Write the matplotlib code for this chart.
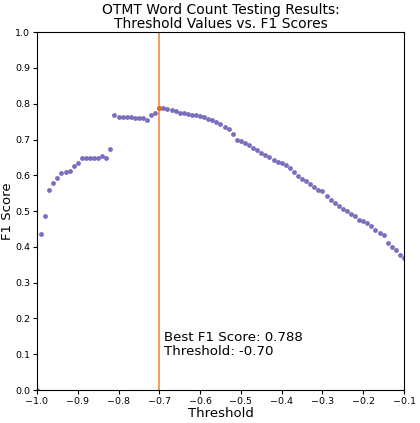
import matplotlib
matplotlib.use("Agg")
import matplotlib.pyplot as plt
import numpy as np

# thresholds from -1.00 to -0.10 in steps of 0.01
thresholds = np.round(np.arange(-1.00, -0.095, 0.01), 2)

f1_scores = [
    0.000, 0.435, 0.485, 0.559, 0.578, 0.592, 0.606, 0.608, 0.611, 0.626,  # -1.00 .. -0.91
    0.634, 0.647, 0.647, 0.647, 0.647, 0.647, 0.653, 0.647, 0.673, 0.769,  # -0.90 .. -0.81
    0.763, 0.763, 0.763, 0.762, 0.761, 0.760, 0.759, 0.755, 0.768, 0.774,  # -0.80 .. -0.71
    0.788, 0.787, 0.785, 0.783, 0.781, 0.774, 0.774, 0.772, 0.769, 0.768,  # -0.70 .. -0.61
    0.766, 0.762, 0.756, 0.754, 0.749, 0.744, 0.735, 0.729, 0.715, 0.700,  # -0.60 .. -0.51
    0.695, 0.690, 0.684, 0.676, 0.672, 0.662, 0.658, 0.650, 0.644, 0.637,  # -0.50 .. -0.41
    0.634, 0.628, 0.620, 0.609, 0.597, 0.590, 0.583, 0.577, 0.568, 0.560,  # -0.40 .. -0.31
    0.556, 0.543, 0.532, 0.523, 0.515, 0.507, 0.499, 0.492, 0.486, 0.476,  # -0.30 .. -0.21
    0.473, 0.466, 0.458, 0.446, 0.439, 0.432, 0.411, 0.399, 0.390, 0.378,  # -0.20 .. -0.11
    0.369,                                                                 # -0.10
]

best_idx = int(np.argmax(f1_scores))
best_thr = thresholds[best_idx]
best_f1 = f1_scores[best_idx]

fig = plt.figure(figsize=(4.2, 4.23), dpi=100)
ax = fig.add_axes([0.088, 0.078, 0.874, 0.846])

ax.scatter(thresholds, f1_scores, s=12, color="#6a5fb8", alpha=0.9, linewidths=0)
ax.axvline(best_thr, color="#ee8a3c", lw=1.3, alpha=0.9)
ax.scatter([best_thr], [best_f1], s=12, color="#e06a10", linewidths=0, zorder=3)

ax.text(best_thr + 0.012, 0.09,
        "Best F1 Score: %.3f\nThreshold: %.2f" % (best_f1, best_thr),
        fontsize=9.6, ha="left", va="bottom", linespacing=1.05)

ax.set_xlim(-1.0, -0.1)
ax.set_ylim(0.0, 1.0)
ax.set_xticks(np.round(np.arange(-1.0, -0.05, 0.1), 1))
ax.set_yticks(np.round(np.arange(0.0, 1.05, 0.1), 1))
ax.tick_params(labelsize=6.8, length=3, pad=2)
ax.set_xlabel("Threshold", fontsize=9.5, labelpad=1)
ax.set_ylabel("F1 Score", fontsize=9.5, labelpad=1)
ax.set_title("OTMT Word Count Testing Results:\nThreshold Values vs. F1 Scores",
             fontsize=10, linespacing=1.0, pad=3)

fig.savefig("out.png", dpi=100)
